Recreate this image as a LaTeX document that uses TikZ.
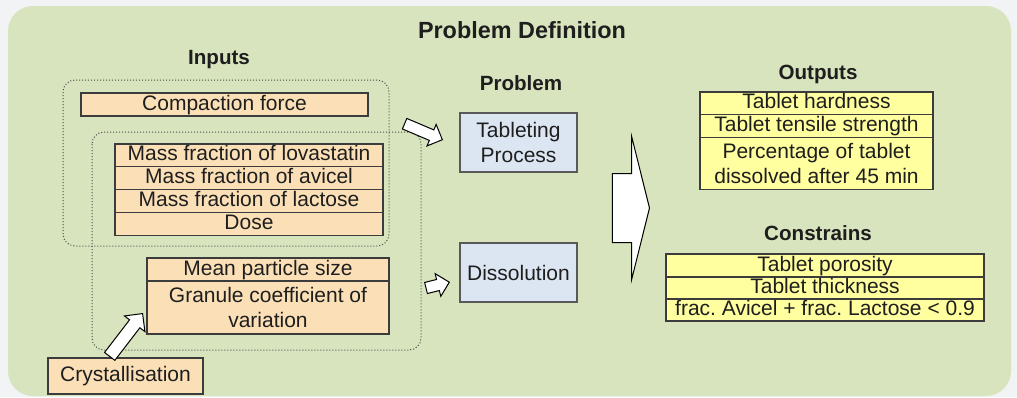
\documentclass[tikz,border=0pt]{standalone}
\usepackage{fontspec}
\setmainfont{Liberation Sans}
\usepackage{xcolor}
\usepackage{tikz}
\usetikzlibrary{shapes.arrows, positioning, calc}
\definecolor{PanelGreen}{HTML}{D7E4BD}
\definecolor{PageGrey}{HTML}{F1F3F5}
\definecolor{InOrange}{HTML}{FBE0B7}
\definecolor{ProcBlue}{HTML}{DCE6F2}
\definecolor{OutYellow}{HTML}{FFFF9F}
\definecolor{CellLine}{HTML}{3C3C3C}
\definecolor{InkGrey}{HTML}{1E1E1E}
\tikzset{
    title/.style={font=\fontsize{10.3}{12}\selectfont\bfseries, text=InkGrey, inner sep=0pt},
    cellrow/.style={rectangle, draw=CellLine, line width=0.6pt, inner sep=0pt, outer sep=0pt,
        text centered, text=InkGrey, text height=7.6pt, text depth=2.1pt, minimum height=11.4pt},
    cellblock/.style={rectangle, draw=CellLine, line width=0.6pt, inner sep=0pt, outer sep=0pt,
        align=center, text=InkGrey},
    inrow/.style={cellrow, fill=InOrange},
    inblock/.style={cellblock, fill=InOrange},
    massrow/.style={inrow, minimum width=134pt},
    outrow/.style={cellrow, fill=OutYellow},
    outblock/.style={cellblock, fill=OutYellow},
    procbox/.style={cellblock, draw=black!65, fill=ProcBlue, minimum width=58.5pt, minimum height=29.5pt},
    dotfence/.style={draw=black!70, densely dotted, line width=0.5pt, rounded corners=6pt},
    fatarrow/.style={single arrow, draw=black, fill=white, line width=0.5pt, inner xsep=0pt, inner ysep=2.6pt,
        single arrow head extend=3pt, single arrow tip angle=90, anchor=tip},
}
\begin{document}
\frenchspacing
\begin{tikzpicture}[x=0.5pt, y=-0.5pt, font=\fontsize{10.5}{12.5}\selectfont]
    \useasboundingbox (0,0) rectangle (1017,397);
    \fill[PageGrey] (0,0) rectangle (1017,397);
    \fill[PanelGreen, rounded corners=12.5pt] (8,6) rectangle (1011,396);

    % headings
    \node[title, font=\fontsize{11.7}{14}\selectfont\bfseries] (pdtitle) at (522,30) {Problem Definition};
    \node[title] (intitle) at (219,60) {Inputs};
    \node[title] (prtitle) at (521,83) {Problem};
    \node[title] (outtitle) at (818,74) {Outputs};
    \node[title] (contitle) at (818,233) {Constrains};

    % inputs
    \node[inrow, minimum width=143.5pt, minimum height=11.5pt, anchor=north west] (cf) at (81,93) {Compaction force};
    \node[massrow, anchor=north west] (mf1) at (115,144) {Mass fraction of lovastatin};
    \node[massrow, below=0pt of mf1] (mf2) {Mass fraction of avicel};
    \node[massrow, below=0pt of mf2] (mf3) {Mass fraction of lactose};
    \node[massrow, below=0pt of mf3] (mf4) {Dose};
    \node[inrow, minimum width=121pt, minimum height=11.5pt, anchor=north west] (mps) at (147,258) {Mean particle size};
    \node[inblock, minimum width=121pt, minimum height=26.5pt, below=0pt of mps] (gcv) {Granule coefficient of\\variation};
    \node[inblock, minimum width=77.5pt, minimum height=18pt, anchor=north west] (cryst) at (48,358) {Crystallisation};

    % groupings of the inputs
    \draw[dotfence] (63,80) rectangle (389,246);
    \draw[dotfence] (92,132) rectangle (421,350);

    % problem
    \node[procbox, anchor=north west] (tp) at (460,113) {Tableting\\Process};
    \node[procbox, anchor=north west] (ds) at (460,243) {Dissolution};

    % outputs and constraints
    \node[outrow, minimum width=116.5pt, anchor=north west] (o1) at (700,92) {Tablet hardness};
    \node[outrow, minimum width=116.5pt, below=0pt of o1] (o2) {Tablet tensile strength};
    \node[outblock, minimum width=116.5pt, minimum height=26pt, below=0pt of o2] (o3) {Percentage of tablet\\dissolved after 45 min};
    \node[outrow, minimum width=159pt, minimum height=11.5pt, anchor=north west] (c1) at (666,254) {Tablet porosity};
    \node[outrow, minimum width=159pt, minimum height=11pt, below=0pt of c1] (c2) {Tablet thickness};
    \node[outrow, minimum width=159pt, minimum height=11pt, below=0pt of c2] (c3) {frac. Avicel + frac. Lactose < 0.9};

    % block arrows
    \node[fatarrow, rotate=-23, minimum height=20.5pt] (a1) at ($(tp.west)+(-17,-2.5)$) {};
    \node[fatarrow, rotate=14, minimum height=12pt] (a2) at ($(ds.west)+(-10,9.5)$) {};
    \node[fatarrow, rotate=52.5, minimum height=27pt, inner ysep=3pt, single arrow head extend=3.2pt] (a3) at ($(gcv.west)+(-4,5.5)$) {};
    \node[fatarrow, minimum height=18.5pt, inner ysep=17pt, single arrow head extend=18.5pt,
        single arrow tip angle=152] (a4) at (650,208) {};
\end{tikzpicture}
\end{document}
